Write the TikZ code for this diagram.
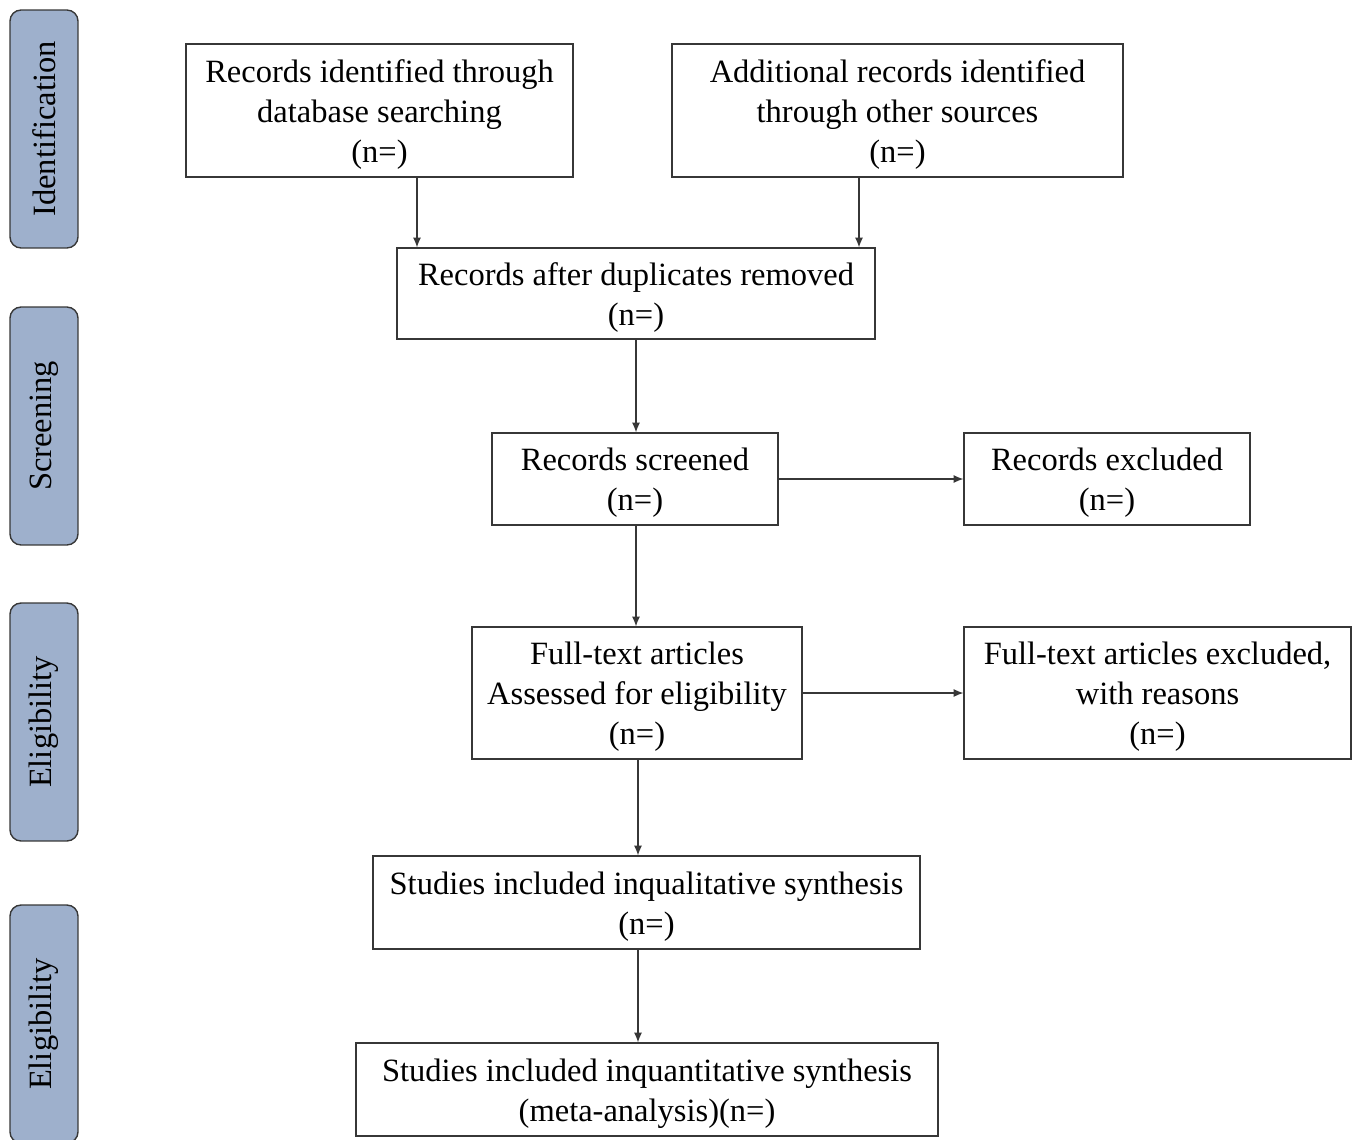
\documentclass[tikz,border=0pt]{standalone}
\usepackage{fontspec}
\setmainfont{Liberation Serif}
\usetikzlibrary{positioning, arrows.meta}

\definecolor{phasefill}{RGB}{158,176,204}
\definecolor{boxline}{RGB}{55,55,55}

\newcommand{\topstrut}{\rule{0pt}{17.5pt}}

\tikzset{
  stage/.style = {draw=boxline, line width=0.8pt, align=center, inner sep=2pt},
  phase/.style = {draw=boxline, line width=0.8pt, fill=phasefill, rounded corners=0.22cm,
                  rotate=90, minimum width=4.76cm, minimum height=1.36cm, inner sep=0pt},
  flow/.style  = {-{Latex[length=5.5pt, width=4.5pt]}, draw=boxline, line width=0.6pt}
}

\begin{document}
\begin{tikzpicture}[x=0.02cm, y=-0.02cm, font=\fontsize{18.5}{22.8}\selectfont]

		\useasboundingbox (0,0) rectangle (1360,1140);

		% phases
		\node[phase] (ident) at (44,129) {Identification};
		\node[phase] (scrn) at (44,426) {Screening};
		\node[phase] (elig) at (44,722) {Eligibility};
		\node[phase] (incl) at (44,1024) {Eligibility};

		% boxes
		\node[stage, minimum width=7.74cm, minimum height=2.66cm] (db) at (379.5,110.5)
			{\topstrut Records identified through\\database searching\\(n=)};
		\node[stage, minimum width=9.02cm, minimum height=2.66cm] (other) at (897.5,110.5)
			{\topstrut Additional records identified\\through other sources\\(n=)};
		\node[stage, minimum width=9.56cm, minimum height=1.82cm] (dup) at (636,293.5)
			{\topstrut Records after duplicates removed\\(n=)};
		\node[stage, minimum width=5.72cm, minimum height=1.84cm] (scr) at (635,479)
			{\topstrut Records screened\\(n=)};
		\node[stage, minimum width=5.72cm, minimum height=1.84cm] (excl) at (1107,479)
			{\topstrut Records excluded\\(n=)};
		\node[stage, minimum width=6.6cm, minimum height=2.64cm] (full) at (637,693)
			{\topstrut Full-text articles\\Assessed for eligibility\\(n=)};
		\node[stage, minimum width=7.74cm, minimum height=2.64cm] (fexcl) at (1157.5,693)
			{\topstrut Full-text articles excluded,\\with reasons\\(n=)};
		\node[stage, minimum width=10.94cm, minimum height=1.86cm] (qual) at (646.5,902.5)
			{\topstrut Studies included inqualitative synthesis\\(n=)};
		\node[stage, minimum width=11.64cm, minimum height=1.86cm] (quant) at (647,1089.5)
			{\topstrut Studies included inquantitative synthesis\\(meta-analysis)(n=)};

		\coordinate (dbx) at (417,0);
		\coordinate (otherx) at (859,0);
		\coordinate (scrx) at (636,0);
		\coordinate (midx) at (638,0);

		% arrows
		\draw[flow] (db.south -| dbx) -- (dup.north -| dbx);
		\draw[flow] (other.south -| otherx) -- (dup.north -| otherx);
		\draw[flow] (dup.south -| scrx) -- (scr.north -| scrx);
		\draw[flow] (scr) -- (excl);
		\draw[flow] (scr.south -| scrx) -- (full.north -| scrx);
		\draw[flow] (full) -- (fexcl);
		\draw[flow] (full.south -| midx) -- (qual.north -| midx);
		\draw[flow] (qual.south -| midx) -- (quant.north -| midx);

\end{tikzpicture}
\end{document}
